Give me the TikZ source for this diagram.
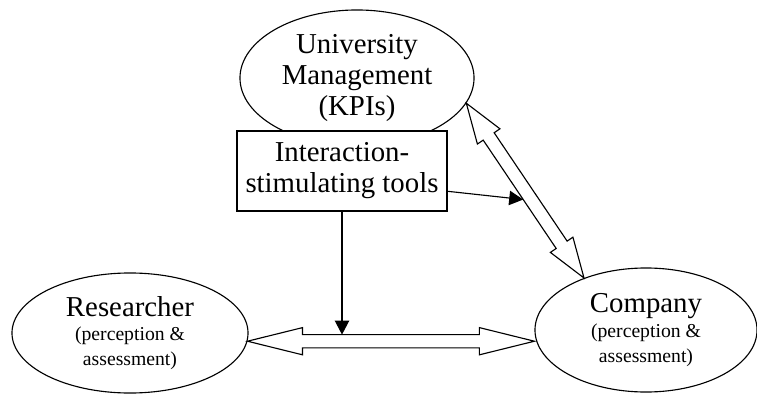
\documentclass[tikz,border=0pt]{standalone}
\usepackage{fontspec}
\setmainfont{Liberation Serif}
\usetikzlibrary{shapes.geometric,arrows.meta,calc}

\newcommand{\namesize}{\fontsize{20.5}{22}\selectfont}
\newcommand{\notesize}{\fontsize{14}{17.5}\selectfont}

% hollow double-headed arrow: from, to, head length
\newcommand{\hollowarrow}[3]{%
  \draw [outline] (#1)
    -- ($(#1)!#3!(#2)!0.34cm!90:(#2)$) -- ($(#1)!#3!(#2)!0.165cm!90:(#2)$)
    -- ($(#2)!#3!(#1)!0.165cm!-90:(#1)$) -- ($(#2)!#3!(#1)!0.34cm!-90:(#1)$)
    -- (#2)
    -- ($(#2)!#3!(#1)!0.34cm!90:(#1)$) -- ($(#2)!#3!(#1)!0.165cm!90:(#1)$)
    -- ($(#1)!#3!(#2)!0.165cm!-90:(#2)$) -- ($(#1)!#3!(#2)!0.34cm!-90:(#2)$)
    -- cycle;}

\begin{document}
\begin{tikzpicture}[
    x=0.025cm, y=-0.025cm,
    bubble/.style={ellipse, draw, thick, inner sep=0pt, align=center},
    box/.style={rectangle, draw, thick, fill=white, minimum width=5.25cm, minimum height=2cm, align=center, font=\namesize},
    outline/.style={thick, fill=white, line join=miter},
    arrow/.style={thick, -{Triangle[length=0.35cm, width=0.36cm]}}
]
\useasboundingbox (0,0) rectangle (757,394);

\node (mgmt) [bubble, minimum width=5.85cm, minimum height=3.4cm, font=\namesize] at (357,78) {University\\Management\\(KPIs)};
\node (tools) [box] at (342,171) {Interaction-\\stimulating tools};
\node (res) [bubble, minimum width=5.9cm, minimum height=3cm, font=\notesize] at (130,333) {{\namesize Researcher}\\(perception \&\\assessment)};
\node (comp) [bubble, minimum width=5.55cm, minimum height=3.1cm, font=\notesize] at (646,330) {{\namesize Company}\\(perception \&\\assessment)};

% ends of the two hollow arrows
\coordinate (resend) at (res.-4);
\coordinate (compend) at (comp.west |- resend);
\coordinate (mgmtend) at (mgmt.-13);
\coordinate (compup) at (comp.140);

\hollowarrow{resend}{compend}{1.375cm}
\hollowarrow{mgmtend}{compup}{1cm}

\coordinate (shafttop) at ($(resend)+(0,0.165cm)$);
\coordinate (toolsout) at ($(tools.south east)!0.25!(tools.north east)$);
\coordinate (hit) at ($(mgmtend)!0.53!(compup)!0.165cm!-90:(compup)$);

\draw [arrow] (tools.south) -- (tools.south |- shafttop);
\draw [arrow] (toolsout) -- (hit);

\end{tikzpicture}
\end{document}
